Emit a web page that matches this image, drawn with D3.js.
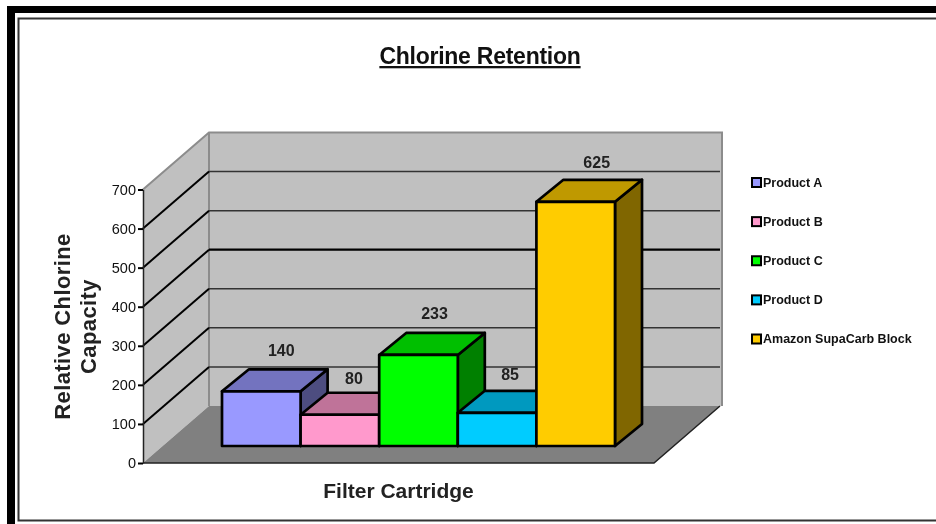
<!DOCTYPE html>
<html>
<head>
<meta charset="utf-8">
<script src="https://cdn.jsdelivr.net/npm/d3@7"></script>
<style>
  html, body { margin: 0; padding: 0; background: #fff; }
  /* the reference is a soft, upscaled scan */
  svg { display: block; font-family: "Liberation Sans", Arial, sans-serif; filter: blur(0.45px); }
</style>
</head>
<body>
<script>
// chart values
const categories = ['Product A', 'Product B', 'Product C', 'Product D', 'Amazon SupaCarb Block'];
const values = [140, 80, 233, 85, 625];
const colors = ['#9999ff', '#ff99cc', '#00ff00', '#00ccff', '#ffcc00'];
const yTicks = [0, 100, 200, 300, 400, 500, 600, 700];

const width = 936;
const height = 524;

// 3d box: front plane, wall offset, bar offset
const floorY = 463;
const topY = 189.5;
const left = 143;
const right = 654;
const wall = {dx: 66, dy: -57};
const bar = {dx: 27, dy: -22, lift: 17};

// the labels do not sit at one fixed distance from the bars
const labelNudge = [[20, -41], [14, -36], [16, -41], [13, -38], [21, -39]];

const x = d3.scaleBand().domain(categories).range([222, 615]);
const y = d3.scaleLinear().domain([0, 700]).range([floorY, topY]);
const legendY = d3.scalePoint().domain(categories).range([182, 338.5]);

const shade = (c, k) => {
  const r = d3.rgb(c);
  return d3.rgb(r.r * k, r.g * k, r.b * k).formatHex();
};
const poly = pts => d3.line()(pts) + 'Z';

const svg = d3.select('body').append('svg')
  .attr('width', width)
  .attr('height', height);

// frame
svg.append('path')
  .attr('d', `M7,524V6H${width}V13H15V524Z`)
  .attr('fill', '#000');
svg.append('path')
  .attr('d', `M${width},18.5H18.5V520.5H${width}`)
  .attr('fill', 'none')
  .attr('stroke', '#333')
  .attr('stroke-width', 2);

// title
svg.append('text')
  .attr('x', 480).attr('y', 64)
  .attr('text-anchor', 'middle')
  .attr('font-weight', 'bold')
  .attr('font-size', 23)
  .attr('letter-spacing', -0.25)
  .attr('text-decoration', 'underline')
  .attr('fill', '#111')
  .text('Chlorine Retention');

// walls and floor
const wallTop = topY + wall.dy;
const wallBottom = floorY + wall.dy;
svg.append('path')
  .attr('d', poly([[left, floorY], [left, topY], [left + wall.dx, wallTop], [left + wall.dx, wallBottom]]))
  .attr('fill', '#c0c0c0');
svg.append('rect')
  .attr('x', left + wall.dx).attr('y', wallTop)
  .attr('width', right - left + 2).attr('height', floorY - topY)
  .attr('fill', '#c0c0c0');
svg.append('path')
  .attr('d', `M${left},${topY}L${left + wall.dx},${wallTop}H${right + wall.dx + 2}V${wallBottom}M${left + wall.dx},${wallTop}V${wallBottom}`)
  .attr('fill', 'none')
  .attr('stroke', '#8c8c8c')
  .attr('stroke-width', 2);
svg.append('path')
  .attr('d', poly([[left, floorY], [left + wall.dx, wallBottom], [right + wall.dx, wallBottom], [right, floorY]]))
  .attr('fill', '#808080');
svg.append('path')
  .attr('d', `M${left},${floorY}H${right}L${right + wall.dx},${wallBottom}`)
  .attr('fill', 'none')
  .attr('stroke', '#222')
  .attr('stroke-width', 1.5);

// gridlines: the side wall part is heavier, and the 400 line is heavier at the back
const gridTicks = yTicks.filter(d => d > 0 && d < 700);
svg.append('g').selectAll('path')
  .data(gridTicks)
  .join('path')
  .attr('d', d => `M${left},${y(d)}L${left + wall.dx},${y(d) + wall.dy}`)
  .attr('stroke', '#000')
  .attr('stroke-width', 2);
svg.append('g').selectAll('path')
  .data(gridTicks)
  .join('path')
  .attr('d', d => `M${left + wall.dx},${y(d) + wall.dy}H${right + wall.dx}`)
  .attr('stroke', d => d === 400 ? '#000' : '#333')
  .attr('stroke-width', d => d === 400 ? 2.2 : 1.5);

// bars, drawn left to right so each one covers the side of the one before
const bars = svg.append('g')
  .attr('stroke', '#000')
  .attr('stroke-width', 2.7)
  .attr('stroke-linejoin', 'round')
  .selectAll('g')
  .data(categories)
  .join('g');

const base = floorY - bar.lift;
const barTop = (d, i) => y(values[i]) - bar.lift;

bars.append('path')
  .attr('d', (d, i) => {
    const xr = x(d) + x.bandwidth();
    return poly([[xr, base], [xr, barTop(d, i)], [xr + bar.dx, barTop(d, i) + bar.dy], [xr + bar.dx, base + bar.dy]]);
  })
  .attr('fill', (d, i) => shade(colors[i], 0.5));
bars.append('path')
  .attr('d', (d, i) => {
    const xl = x(d), xr = xl + x.bandwidth();
    const t = barTop(d, i);
    return poly([[xl, t], [xl + bar.dx, t + bar.dy], [xr + bar.dx, t + bar.dy], [xr, t]]);
  })
  .attr('fill', (d, i) => shade(colors[i], 0.75));
bars.append('rect')
  .attr('x', d => x(d))
  .attr('y', barTop)
  .attr('width', x.bandwidth())
  .attr('height', (d, i) => base - barTop(d, i))
  .attr('fill', (d, i) => colors[i]);

// value labels
svg.append('g').selectAll('text')
  .data(categories)
  .join('text')
  .attr('x', (d, i) => x(d) + x.bandwidth() / 2 + labelNudge[i][0])
  .attr('y', (d, i) => barTop(d, i) + labelNudge[i][1] + 5.5)
  .attr('text-anchor', 'middle')
  .attr('font-weight', 'bold')
  .attr('font-size', 16)
  .attr('fill', '#222')
  .text((d, i) => values[i]);

// y axis
const yAxis = svg.append('g')
  .attr('transform', `translate(${left},0)`)
  .call(d3.axisLeft(y).tickValues(yTicks).tickFormat(d3.format('d')).tickSize(5).tickPadding(2).tickSizeOuter(0));
yAxis.select('.domain').attr('stroke', '#222').attr('stroke-width', 1.5);
yAxis.selectAll('.tick line').attr('stroke', '#000').attr('stroke-width', 2);
yAxis.selectAll('.tick text')
  .attr('font-family', '"Liberation Sans", Arial, sans-serif')
  .attr('font-size', 14.5)
  .attr('fill', '#111');

// axis titles
svg.append('text')
  .attr('transform', 'translate(70,326.5) rotate(-90)')
  .attr('text-anchor', 'middle')
  .attr('font-weight', 'bold')
  .attr('font-size', 22)
  .attr('letter-spacing', 0.4)
  .attr('fill', '#222')
  .selectAll('tspan')
  .data(['Relative Chlorine', 'Capacity'])
  .join('tspan')
  .attr('x', 0)
  .attr('dy', (d, i) => i ? 26 : 0)
  .text(d => d);

svg.append('text')
  .attr('x', 398.5).attr('y', 498)
  .attr('text-anchor', 'middle')
  .attr('font-weight', 'bold')
  .attr('font-size', 21)
  .attr('fill', '#222')
  .text('Filter Cartridge');

// legend
const legend = svg.append('g').selectAll('g')
  .data(categories)
  .join('g')
  .attr('transform', d => `translate(751,${legendY(d)})`);
legend.append('rect')
  .attr('x', 1).attr('y', -4)
  .attr('width', 9).attr('height', 9)
  .attr('stroke', '#000')
  .attr('stroke-width', 2)
  .attr('fill', (d, i) => colors[i]);
legend.append('text')
  .attr('x', 12).attr('y', 4.5)
  .attr('font-weight', 'bold')
  .attr('font-size', 12.5)
  .attr('fill', '#111')
  .text(d => d);
</script>
</body>
</html>
